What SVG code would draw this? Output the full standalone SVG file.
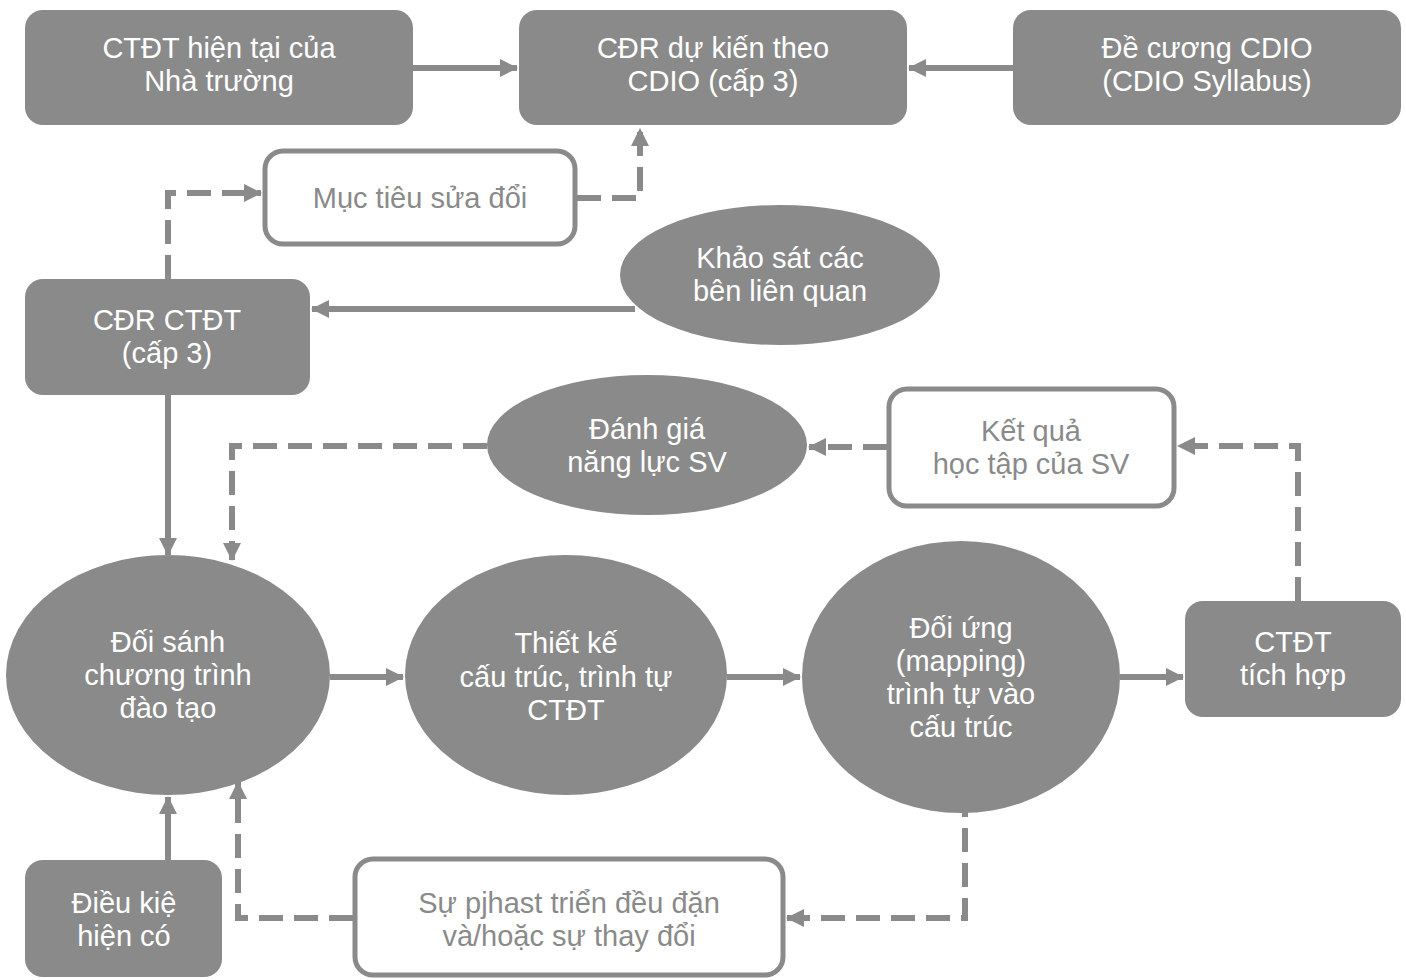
<svg xmlns="http://www.w3.org/2000/svg" width="1406" height="980" viewBox="0 0 1406 980">
<style>
.f{fill:#8a8a8a}
.w{fill:#ffffff;stroke:#8a8a8a;stroke-width:5}
.t{font-family:"Liberation Sans",Arial,sans-serif;font-size:29px;text-anchor:middle}
.tw{fill:#ffffff}
.tg{fill:#8a8a8a}
.c{fill:none;stroke:#8a8a8a;stroke-width:6}
.d{stroke-dasharray:24 11}
</style>
<defs>
<marker id="a" markerUnits="userSpaceOnUse" markerWidth="18" markerHeight="18" viewBox="0 0 18 18" refX="17" refY="9" orient="auto">
<path d="M0,0 L18,9 L0,18 Z" fill="#8a8a8a"/>
</marker>
</defs>
<rect width="1406" height="980" fill="#ffffff"/>
<g id="connectors">
<path class="c" d="M413,68 H517" marker-end="url(#a)"/>
<path class="c" d="M1013,68 H909" marker-end="url(#a)"/>
<path class="c d" d="M577,198 H640 V129" marker-end="url(#a)"/>
<path class="c d" d="M168,279 V193 H261" marker-end="url(#a)"/>
<path class="c" d="M635,309 H312" marker-end="url(#a)"/>
<path class="c" d="M168,395 V555" marker-end="url(#a)"/>
<path class="c d" d="M487,446 H232 V560" marker-end="url(#a)"/>
<path class="c d" d="M887,447 H809" marker-end="url(#a)"/>
<path class="c d" d="M1298,601 V446 H1178" marker-end="url(#a)"/>
<path class="c" d="M330,677 H403" marker-end="url(#a)"/>
<path class="c" d="M727,677 H800" marker-end="url(#a)"/>
<path class="c" d="M1120,677 H1183" marker-end="url(#a)"/>
<path class="c d" d="M965,793 V918 H787" marker-end="url(#a)"/>
<path class="c d" d="M353,918 H238 V782" marker-end="url(#a)"/>
<path class="c" d="M168,860 V797" marker-end="url(#a)"/>
</g>
<g id="n1">
<rect class="f" x="25" y="10" width="388" height="115" rx="18"/>
<text class="t tw" x="219" y="58">CTĐT hiện tại của</text>
<text class="t tw" x="219" y="91">Nhà trường</text>
</g>
<g id="n2">
<rect class="f" x="519" y="10" width="388" height="115" rx="18"/>
<text class="t tw" x="713" y="58">CĐR dự kiến theo</text>
<text class="t tw" x="713" y="91">CDIO (cấp 3)</text>
</g>
<g id="n3">
<rect class="f" x="1013" y="10" width="388" height="115" rx="18"/>
<text class="t tw" x="1207" y="58">Đề cương CDIO</text>
<text class="t tw" x="1207" y="91">(CDIO Syllabus)</text>
</g>
<g id="n4">
<rect class="w" x="265" y="151" width="310" height="93" rx="18"/>
<text class="t tg" x="420" y="208">Mục tiêu sửa đổi</text>
</g>
<g id="n5">
<ellipse class="f" cx="780" cy="275" rx="160" ry="70"/>
<text class="t tw" x="780" y="268">Khảo sát các</text>
<text class="t tw" x="780" y="301">bên liên quan</text>
</g>
<g id="n6">
<rect class="f" x="25" y="279" width="285" height="116" rx="18"/>
<text class="t tw" x="167" y="330">CĐR CTĐT</text>
<text class="t tw" x="167" y="363">(cấp 3)</text>
</g>
<g id="n7">
<ellipse class="f" cx="647" cy="445" rx="160" ry="70"/>
<text class="t tw" x="647" y="439">Đánh giá</text>
<text class="t tw" x="647" y="472">năng lực SV</text>
</g>
<g id="n8">
<rect class="w" x="889" y="389" width="285" height="117" rx="18"/>
<text class="t tg" x="1031" y="441">Kết quả</text>
<text class="t tg" x="1031" y="474">học tập của SV</text>
</g>
<g id="n9">
<ellipse class="f" cx="168" cy="675" rx="162" ry="120"/>
<text class="t tw" x="168" y="652">Đối sánh</text>
<text class="t tw" x="168" y="685">chương trình</text>
<text class="t tw" x="168" y="718">đào tạo</text>
</g>
<g id="n10">
<ellipse class="f" cx="566" cy="675" rx="161" ry="120"/>
<text class="t tw" x="566" y="653">Thiết kế</text>
<text class="t tw" x="566" y="687">cấu trúc, trình tự</text>
<text class="t tw" x="566" y="720">CTĐT</text>
</g>
<g id="n11">
<ellipse class="f" cx="961" cy="677" rx="159" ry="136"/>
<text class="t tw" x="961" y="638">Đối ứng</text>
<text class="t tw" x="961" y="671">(mapping)</text>
<text class="t tw" x="961" y="704">trình tự vào</text>
<text class="t tw" x="961" y="737">cấu trúc</text>
</g>
<g id="n12">
<rect class="f" x="1185" y="601" width="216" height="116" rx="18"/>
<text class="t tw" x="1293" y="652">CTĐT</text>
<text class="t tw" x="1293" y="685">tích hợp</text>
</g>
<g id="n13">
<rect class="f" x="25" y="860" width="197" height="117" rx="18"/>
<text class="t tw" x="124" y="913">Điều kiệ</text>
<text class="t tw" x="124" y="946">hiện có</text>
</g>
<g id="n14">
<rect class="w" x="355" y="859" width="428" height="116" rx="18"/>
<text class="t tg" x="569" y="913">Sự pjhast triển đều đặn</text>
<text class="t tg" x="569" y="946">và/hoặc sự thay đổi</text>
</g>
</svg>
